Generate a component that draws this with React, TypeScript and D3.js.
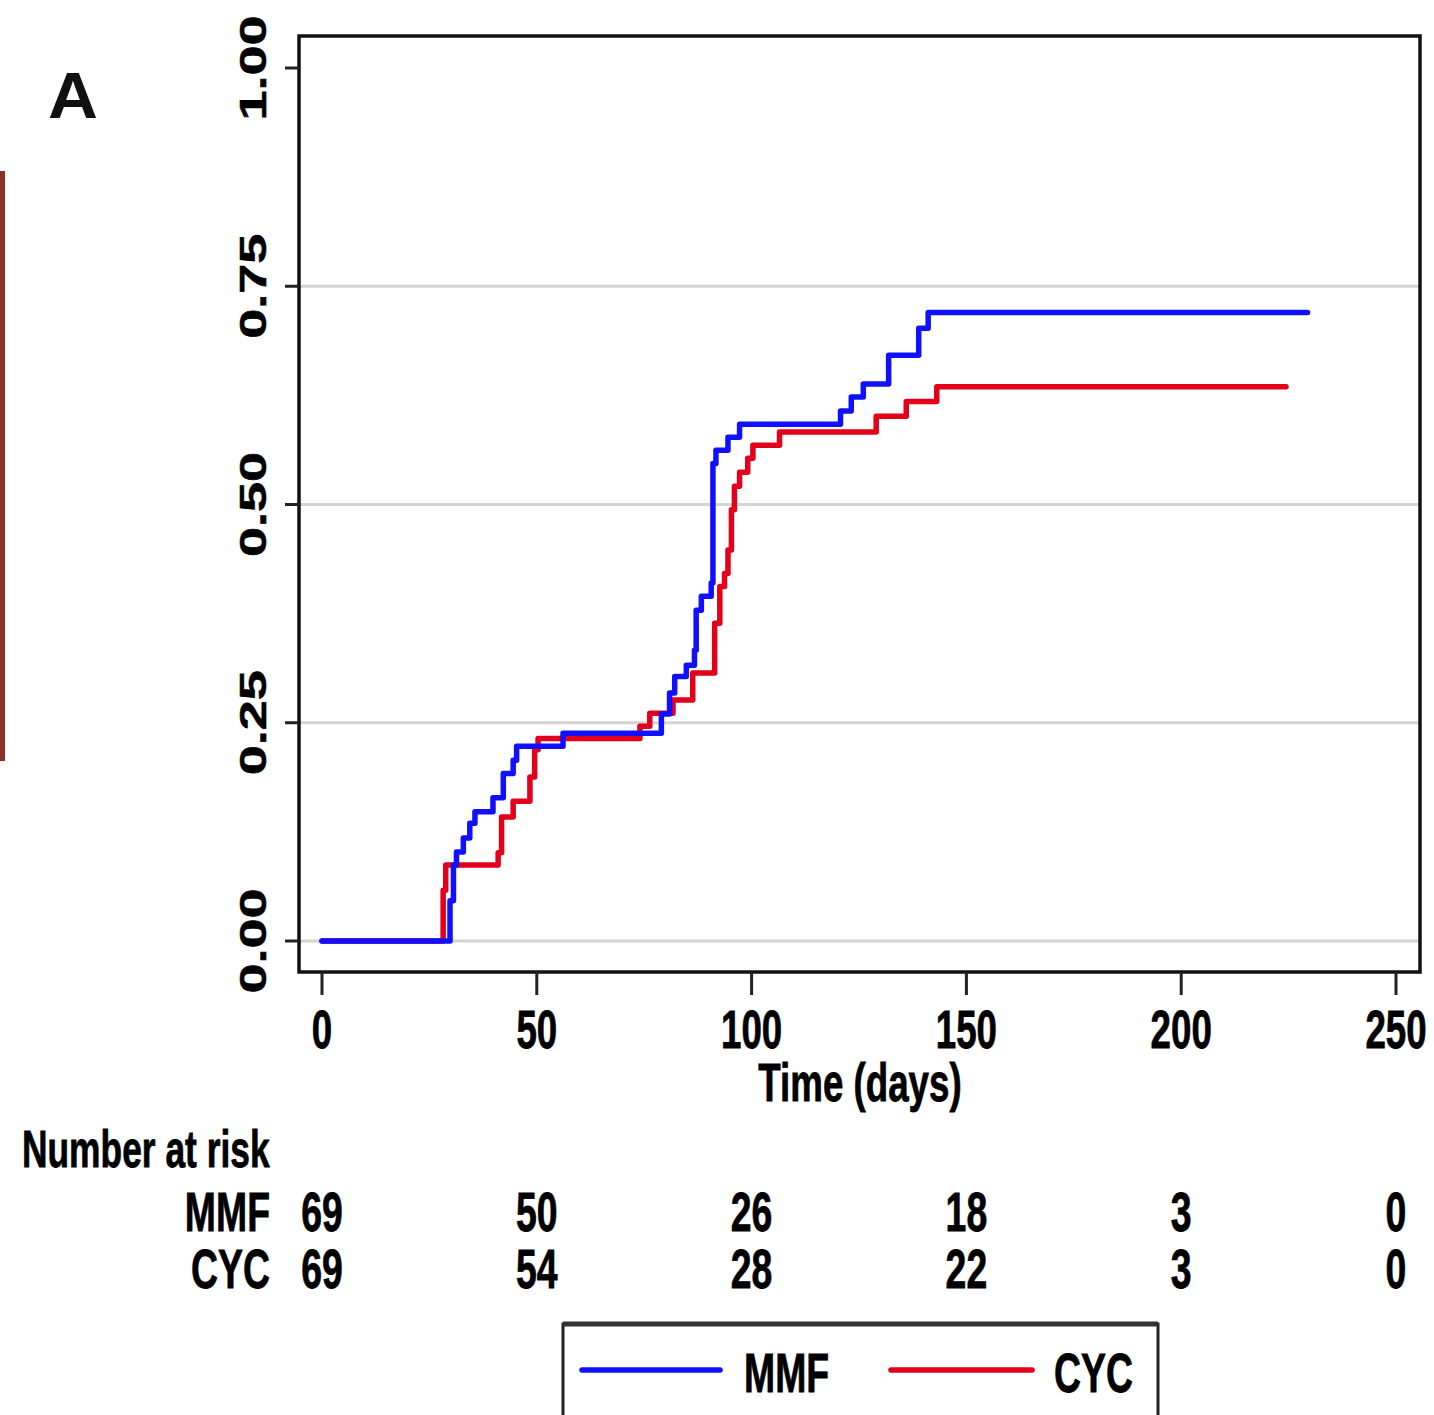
import React from 'react';
import * as d3 from 'd3';

// cumulative incidence
const mmfTimes = [0, 29.8, 30.6, 31.3, 32.9, 34.4, 35.6, 39.8, 42.2, 44.5, 45.3, 56.1, 79.0, 80.9, 82.1, 84.8, 86.7, 87.1, 88.3, 90.6, 91.0, 91.7, 94.5, 97.2, 120.7, 123.2, 126.0, 131.9, 138.9, 141.1, 229.4];
const mmfValues = [0, 0.046, 0.087, 0.102, 0.118, 0.135, 0.148, 0.164, 0.192, 0.207, 0.223, 0.238, 0.26, 0.284, 0.303, 0.316, 0.333, 0.379, 0.395, 0.41, 0.547, 0.562, 0.577, 0.592, 0.607, 0.623, 0.638, 0.671, 0.702, 0.72, 0.72];
const cycTimes = [0, 28.2, 28.8, 41.0, 41.8, 44.5, 48.4, 49.5, 50.3, 74.0, 76.3, 81.7, 86.3, 91.4, 92.6, 93.7, 94.5, 95.3, 96.0, 97.2, 99.1, 100.3, 106.5, 129.0, 136.0, 143.1, 224.4];
const cycValues = [0, 0.058, 0.087, 0.101, 0.142, 0.16, 0.188, 0.219, 0.232, 0.246, 0.261, 0.276, 0.307, 0.364, 0.406, 0.421, 0.448, 0.494, 0.521, 0.537, 0.553, 0.568, 0.583, 0.601, 0.618, 0.635, 0.635];

const xTicks = [0, 50, 100, 150, 200, 250];
const yTicks = [0, 0.25, 0.5, 0.75, 1];
const gridTicks = [0, 0.25, 0.5, 0.75];
const riskLabels = ['MMF', 'CYC'];
const riskMMF = [69, 50, 26, 18, 3, 0];
const riskCYC = [69, 54, 28, 22, 3, 0];

const BLUE = '#1010ff';
const RED = '#e3001b';
const SQ = 0.68; // text is squeezed horizontally in the original

const font = '"Liberation Sans", Arial, Helvetica, sans-serif';

const App = () => {
  const x = d3.scaleLinear().domain([0, 250]).range([322, 1396]);
  const y = d3.scaleLinear().domain([0, 1]).range([941, 68]);

  const line = d3.line<[number, number]>()
    .x((d) => x(d[0]))
    .y((d) => y(d[1]))
    .curve(d3.curveStepAfter);

  const mmf = mmfTimes.map((t, i) => [t, mmfValues[i]] as [number, number]);
  const cyc = cycTimes.map((t, i) => [t, cycValues[i]] as [number, number]);

  const frame = { left: 299, top: 36, right: 1420, bottom: 972 };
  const riskRows = [riskMMF, riskCYC];
  const rowY = [1231, 1288];

  const txt = (tx: number, ty: number, s: string | number, size: number, anchor = 'middle', key?: string) => (
    <text key={key} transform={`translate(${tx},${ty}) scale(${SQ},1)`} textAnchor={anchor}
      fontSize={size} fontWeight="bold" fontFamily={font} fill="#000"
      stroke="#000" strokeWidth={0.8}>{s}</text>
  );

  return (
    <svg width={1434} height={1415} style={{ position: 'absolute', left: 0, top: 0, background: '#fff' }}>
      <rect x={0} y={0} width={1434} height={1415} fill="#fff" />
      <rect x={0} y={171} width={5} height={590} fill="#8b2e2a" />
      <text x={48} y={118} fontSize={64} fontWeight="bold" fontFamily={font} fill="#111"
        transform="translate(48,118) scale(1.08,1) translate(-48,-118)">A</text>

      {gridTicks.map((t) => (
        <line key={'g' + t} x1={frame.left} x2={frame.right} y1={y(t)} y2={y(t)} stroke="#d4d4d4" strokeWidth={3} />
      ))}

      <path d={line(cyc) || ''} fill="none" stroke={RED} strokeWidth={5.5} strokeLinejoin="round" strokeLinecap="round" />
      <path d={line(mmf) || ''} fill="none" stroke={BLUE} strokeWidth={5.5} strokeLinejoin="round" strokeLinecap="round" />

      <rect x={frame.left} y={frame.top} width={frame.right - frame.left} height={frame.bottom - frame.top}
        fill="none" stroke="#111" strokeWidth={3.5} />

      {yTicks.map((t) => (
        <g key={'y' + t}>
          <line x1={285} x2={frame.left} y1={y(t)} y2={y(t)} stroke="#222" strokeWidth={3} />
          <text transform={`translate(266,${y(t)}) scale(${SQ},1) rotate(-90)`} textAnchor="middle"
            fontSize={54} fontWeight="bold" fontFamily={font} fill="#000"
            stroke="#000" strokeWidth={0.8}>{d3.format('.2f')(t)}</text>
        </g>
      ))}

      {xTicks.map((t) => (
        <g key={'x' + t}>
          <line x1={x(t)} x2={x(t)} y1={frame.bottom} y2={995} stroke="#222" strokeWidth={3} />
          {txt(x(t), 1048, t, 54)}
        </g>
      ))}

      {txt(860, 1101, 'Time (days)', 54)}

      {txt(22, 1167, 'Number at risk', 52, 'start')}
      {riskLabels.map((lab, r) => (
        <g key={lab}>
          {txt(270, rowY[r], lab, 55, 'end')}
          {riskRows[r].map((n, i) => txt(x(xTicks[i]), rowY[r], n, 55, 'middle', lab + i))}
        </g>
      ))}

      <rect x={563} y={1324} width={595} height={120} fill="#fff" stroke="#222" strokeWidth={3} />
      <line x1={563} x2={1158} y1={1324} y2={1324} stroke="#333" strokeWidth={5} />
      <line x1={582} x2={720} y1={1370} y2={1370} stroke={BLUE} strokeWidth={5.5} strokeLinecap="round" />
      {txt(744, 1392, 'MMF', 55, 'start')}
      <line x1={891} x2={1032} y1={1370} y2={1370} stroke={RED} strokeWidth={5.5} strokeLinecap="round" />
      {txt(1054, 1392, 'CYC', 55, 'start')}
    </svg>
  );
};

export default App;
